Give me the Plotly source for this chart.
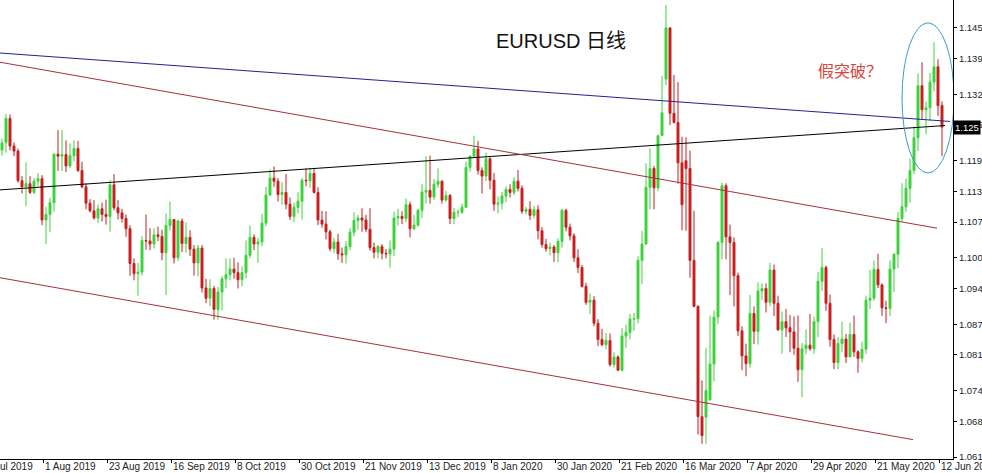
import plotly.graph_objects as go

# ---------------- data (EURUSD daily) ----------------
first_bar = 5  # bar index of the first candle (index 0 = 10 Jul 2019)

opens = [
    1.1211,1.1226,1.1273,1.1219,1.1209,1.1151,1.1139,1.1145,1.1128,1.1150,1.1155,
    1.1074,1.1085,1.1108,1.1203,1.1199,1.1202,1.1180,1.1200,1.1214,1.1171,1.1139,1.1107,1.1092,1.1078,1.1096,1.1085,1.1081,1.1143,1.1098,1.1088,1.1077,1.1057,
    1.0989,1.0969,1.0972,1.1034,1.1033,1.1027,1.1045,1.1042,1.1010,1.1063,1.1075,1.1000,1.1072,1.1028,1.1040,1.1017,1.0990,1.1019,1.0941,1.0921,1.0940,
    1.0899,1.0933,1.0959,1.0967,1.0978,1.0971,1.0957,1.0971,1.1005,1.1040,1.1027,1.1031,1.1068,1.1123,1.1156,1.1150,1.1124,1.1128,1.1105,1.1081,1.1099,1.1111,1.1152,
    1.1151,1.1165,1.1128,1.1074,1.1066,1.1051,1.1018,1.1031,1.1008,1.1006,1.1022,1.1050,1.1073,1.1078,1.1074,1.1056,1.1020,1.1011,1.1022,1.1009,1.1008,
    1.1017,1.1078,1.1081,1.1077,1.1104,1.1057,1.1064,1.1093,1.1129,1.1132,1.1119,1.1144,1.1150,1.1113,1.1122,1.1077,1.1089,1.1089,1.1099,1.1177,1.1199,
    1.1213,1.1171,1.1160,1.1194,1.1152,1.1105,1.1107,1.1121,1.1134,1.1128,1.1150,1.1136,1.1091,1.1095,1.1083,1.1094,1.1053,1.1026,1.1018,1.1021,1.1010,1.1032,
    1.1093,1.1060,1.1043,1.1000,1.0981,1.0944,1.0913,1.0917,1.0872,1.0840,1.0830,1.0838,1.0791,1.0806,1.0780,1.0847,1.0854,1.0880,1.0881,1.0995,
    1.1027,1.1138,1.1175,1.1137,1.1239,1.1350,1.1450,1.1283,1.1265,1.1186,1.1190,1.1175,1.0995,1.0905,1.0689,1.0688,1.0722,1.0792,1.0884,1.1030,1.1141,1.1041,
    1.1030,1.0965,1.0857,1.0808,1.0793,1.0891,1.0856,1.0935,1.0940,1.0913,1.0976,1.0911,1.0859,1.0875,1.0863,1.0855,1.0823,1.0781,1.0822,1.0829,1.0822,
    1.0875,1.0954,1.0981,1.0911,1.0840,1.0795,1.0832,1.0841,1.0806,1.0850,1.0816,1.0803,1.0821,1.0917,1.0921,1.0977,1.0947,1.0902,1.0901,1.0978,1.1007,1.1077,
    1.1100,1.1136,1.1171,1.1235,1.1337,1.1290,1.1294,1.1344,1.1374,1.1298,
]
highs = [
    1.1233,1.1282,1.1281,1.1226,1.1214,1.1160,1.1187,1.1160,1.1156,1.1166,1.1162,
    1.1100,1.1117,1.1204,1.1250,1.1250,1.1230,1.1224,1.1230,1.1229,1.1188,1.1146,1.1115,1.1113,1.1104,1.1108,1.1114,1.1152,1.1164,1.1113,1.1096,1.1085,1.1064,
    1.0999,1.0990,1.1043,1.1085,1.1058,1.1058,1.1061,1.1055,1.1087,1.1110,1.1076,1.1075,1.1077,1.1069,1.1054,1.1025,1.1025,1.1025,1.0959,1.0958,1.0945,
    1.0943,1.0964,1.0999,1.0999,1.1000,1.0991,1.0983,1.1034,1.1063,1.1046,1.1039,1.1086,1.1139,1.1173,1.1179,1.1156,1.1148,1.1164,1.1118,1.1108,1.1128,1.1156,1.1175,
    1.1176,1.1175,1.1138,1.1092,1.1091,1.1055,1.1039,1.1047,1.1020,1.1033,1.1058,1.1089,1.1084,1.1097,1.1084,1.1097,1.1030,1.1025,1.1027,1.1017,1.1034,
    1.1090,1.1096,1.1091,1.1116,1.1110,1.1084,1.1096,1.1145,1.1199,1.1200,1.1154,1.1175,1.1152,1.1131,1.1125,1.1098,1.1095,1.1106,1.1188,1.1200,1.1239,
    1.1229,1.1177,1.1206,1.1197,1.1166,1.1120,1.1129,1.1140,1.1144,1.1158,1.1172,1.1142,1.1100,1.1111,1.1102,1.1103,1.1060,1.1037,1.1030,1.1025,1.1038,1.1096,
    1.1096,1.1067,1.1048,1.1017,1.0986,1.0951,1.0930,1.0925,1.0880,1.0861,1.0853,1.0852,1.0815,1.0809,1.0863,1.0869,1.0890,1.0892,1.1003,1.1053,
    1.1185,1.1214,1.1180,1.1241,1.1356,1.1495,1.1452,1.1358,1.1344,1.1237,1.1236,1.1210,1.1092,1.0907,1.0760,1.0823,1.0887,1.0897,1.1033,1.1147,1.1146,1.1065,
    1.1040,1.0971,1.0866,1.0832,1.0927,1.0905,1.0952,1.0950,1.0950,1.0990,1.0987,1.0926,1.0895,1.0900,1.0888,1.0885,1.0887,1.0833,1.0860,1.0890,1.0885,
    1.0972,1.1019,1.0985,1.0928,1.0850,1.0845,1.0875,1.0851,1.0873,1.0887,1.0819,1.0836,1.0926,1.0976,1.0995,1.1008,1.0950,1.0916,1.0995,1.1009,1.1090,1.1146,
    1.1155,1.1194,1.1257,1.1361,1.1383,1.1306,1.1362,1.1422,1.1389,1.1306,
]
lows = [
    1.1200,1.1206,1.1210,1.1199,1.1147,1.1126,1.1101,1.1125,1.1125,1.1140,1.1064,
    1.1027,1.1050,1.1090,1.1170,1.1170,1.1168,1.1176,1.1189,1.1168,1.1136,1.1095,1.1089,1.1075,1.1068,1.1071,1.1065,1.1051,1.1093,1.1075,1.1069,1.1041,1.0965,
    1.0956,1.0926,1.0965,1.1016,1.1015,1.1018,1.1033,1.0995,1.0927,1.1053,1.0989,1.0994,1.1011,1.1010,1.1004,1.0965,1.0964,1.0932,1.0911,1.0905,1.0879,
    1.0879,1.0897,1.0940,1.0956,1.0959,1.0940,1.0944,1.0960,1.0999,1.1015,1.0990,1.1023,1.1062,1.1121,1.1139,1.1110,1.1104,1.1095,1.1074,1.1070,1.1087,1.1075,1.1140,
    1.1137,1.1126,1.1064,1.1059,1.1036,1.1013,1.1009,1.0996,1.0990,1.0989,1.1015,1.1042,1.1055,1.1051,1.1050,1.1014,1.0999,1.0999,1.0997,1.0999,1.0981,
    1.1003,1.1063,1.1066,1.1070,1.1040,1.1054,1.1061,1.1078,1.1106,1.1106,1.1113,1.1137,1.1106,1.1110,1.1066,1.1066,1.1080,1.1086,1.1098,1.1169,1.1196,
    1.1163,1.1126,1.1150,1.1134,1.1092,1.1087,1.1095,1.1109,1.1118,1.1123,1.1130,1.1086,1.1085,1.1074,1.1077,1.1036,1.1020,1.1012,1.1005,1.0992,1.0991,1.1020,
    1.1052,1.1034,1.0992,1.0970,1.0942,1.0908,1.0890,1.0866,1.0827,1.0827,1.0821,1.0787,1.0785,1.0778,1.0777,1.0824,1.0840,1.0857,1.0872,1.0949,
    1.1025,1.1095,1.1095,1.1130,1.1239,1.1338,1.1260,1.1263,1.1145,1.1054,1.1053,1.0961,1.0903,1.0654,1.0636,1.0636,1.0720,1.0758,1.0870,1.0997,1.0997,1.0927,
    1.0905,1.0847,1.0780,1.0768,1.0785,1.0831,1.0830,1.0917,1.0893,1.0905,1.0886,1.0857,1.0812,1.0845,1.0815,1.0810,1.0757,1.0727,1.0811,1.0818,1.0812,
    1.0845,1.0935,1.0896,1.0826,1.0782,1.0782,1.0815,1.0794,1.0805,1.0806,1.0775,1.0795,1.0812,1.0900,1.0916,1.0941,1.0886,1.0872,1.0886,1.0933,1.0980,1.1070,
    1.1090,1.1108,1.1164,1.1209,1.1272,1.1242,1.1269,1.1326,1.1278,1.1199,
]
closes = [
    1.1225,1.1273,1.1219,1.1209,1.1151,1.1139,1.1145,1.1128,1.1150,1.1155,1.1074,
    1.1085,1.1108,1.1203,1.1199,1.1202,1.1180,1.1200,1.1214,1.1171,1.1139,1.1107,1.1092,1.1078,1.1096,1.1085,1.1081,1.1143,1.1098,1.1088,1.1077,1.1057,1.0989,
    1.0969,1.0972,1.1034,1.1033,1.1027,1.1045,1.1042,1.1010,1.1063,1.1075,1.1000,1.1072,1.1028,1.1040,1.1017,1.0990,1.1019,1.0941,1.0921,1.0940,1.0899,
    1.0933,1.0959,1.0967,1.0978,1.0971,1.0957,1.0971,1.1005,1.1040,1.1027,1.1031,1.1068,1.1123,1.1156,1.1150,1.1124,1.1128,1.1105,1.1081,1.1099,1.1111,1.1152,1.1151,
    1.1165,1.1128,1.1074,1.1066,1.1051,1.1018,1.1031,1.1008,1.1006,1.1022,1.1050,1.1073,1.1078,1.1074,1.1056,1.1020,1.1011,1.1022,1.1009,1.1008,1.1017,
    1.1078,1.1081,1.1077,1.1104,1.1057,1.1064,1.1093,1.1129,1.1132,1.1119,1.1144,1.1150,1.1113,1.1122,1.1077,1.1089,1.1089,1.1099,1.1177,1.1199,1.1213,
    1.1171,1.1160,1.1194,1.1152,1.1105,1.1107,1.1121,1.1134,1.1128,1.1150,1.1136,1.1091,1.1095,1.1083,1.1094,1.1053,1.1026,1.1018,1.1021,1.1010,1.1032,1.1093,
    1.1060,1.1043,1.1000,1.0981,1.0944,1.0913,1.0917,1.0872,1.0840,1.0830,1.0838,1.0791,1.0806,1.0780,1.0847,1.0854,1.0880,1.0881,1.0995,1.1027,
    1.1138,1.1175,1.1137,1.1239,1.1284,1.1450,1.1283,1.1265,1.1186,1.1104,1.1175,1.0995,1.0905,1.0689,1.0652,1.0740,1.0792,1.0884,1.1030,1.1141,1.1041,1.1030,
    1.0965,1.0857,1.0808,1.0793,1.0891,1.0856,1.0935,1.0940,1.0913,1.0976,1.0911,1.0859,1.0875,1.0863,1.0855,1.0823,1.0781,1.0822,1.0829,1.0822,1.0875,
    1.0954,1.0981,1.0911,1.0840,1.0795,1.0832,1.0841,1.0806,1.0850,1.0816,1.0803,1.0821,1.0917,1.0921,1.0977,1.0947,1.0902,1.0901,1.0978,1.1007,1.1077,1.1100,
    1.1136,1.1171,1.1235,1.1337,1.1290,1.1294,1.1344,1.1374,1.1298,1.1256,
]

# date axis: a label every 16 bars (bar index from 10 Jul 2019)
date_tick_bars = [0, 16, 32, 48, 64, 80, 96, 112, 128, 144, 160, 176, 192, 208, 224, 240]
date_tick_labels = ["10 Jul 2019", "1 Aug 2019", "23 Aug 2019", "16 Sep 2019", "8 Oct 2019",
                    "30 Oct 2019", "21 Nov 2019", "13 Dec 2019", "8 Jan 2020", "30 Jan 2020",
                    "21 Feb 2020", "16 Mar 2020", "7 Apr 2020", "29 Apr 2020", "21 May 2020",
                    "12 Jun 2020"]

price_ticks = [1.061, 1.068, 1.074, 1.081, 1.087, 1.094, 1.100, 1.107, 1.113,
               1.119, 1.126, 1.132, 1.139, 1.145]
price_tick_labels = ["1.061", "1.068", "1.074", "1.081", "1.087", "1.094", "1.100", "1.107",
                     "1.113", "1.119", "1.126", "1.132", "1.139", "1.145"]

# trend lines: (bar start, price start, bar end, price end)
blue_line = (4.5, 1.1401, 242.0, 1.1267)
black_line = (4.5, 1.1133, 240.75, 1.1259)
channel_upper = (4.5, 1.1383, 238.75, 1.1058)
channel_lower = (4.5, 1.0961, 232.75, 1.0644)
ellipse_box = (230.0, 1.1166, 243.0, 1.1460)

X_RANGE = [4.5, 242.75]
Y_RANGE = [1.06061, 1.15048]

bars = list(range(first_bar, first_bar + len(closes)))
tick_pos = [b - 0.75 for b in date_tick_bars]

GREEN = "#3cd23c"
RED = "#c81e1e"

fig = go.Figure()
fig.add_trace(go.Candlestick(
    x=bars, open=opens, high=highs, low=lows, close=closes,
    increasing=dict(line=dict(color=GREEN, width=1), fillcolor=GREEN),
    decreasing=dict(line=dict(color=RED, width=1), fillcolor=RED),
    whiskerwidth=0, hoverinfo="skip", showlegend=False,
))

shapes = []
for (x0, y0, x1, y1), col in [(blue_line, "#23238c"), (black_line, "#000000"),
                              (channel_upper, "#a8303a"), (channel_lower, "#a8303a")]:
    shapes.append(dict(type="line", xref="x", yref="y", x0=x0, y0=y0, x1=x1, y1=y1,
                       line=dict(color=col, width=1), layer="above"))
shapes.append(dict(type="circle", xref="x", yref="y",
                   x0=ellipse_box[0], y0=ellipse_box[1], x1=ellipse_box[2], y1=ellipse_box[3],
                   line=dict(color="#3d9ccc", width=1), layer="above"))

annotations = [
    dict(text="EURUSD 日线", xref="paper", yref="paper", x=0.5887, y=0.9107,
         xanchor="center", yanchor="middle", showarrow=False,
         font=dict(family="Liberation Sans, Noto Sans CJK SC", size=20, color="#111111")),
    dict(text="假突破？", xref="paper", yref="paper", x=0.892, y=0.8475,
         xanchor="center", yanchor="middle", showarrow=False,
         font=dict(family="Noto Sans CJK SC", size=16, color="#d9443c")),
    dict(text=f"{closes[-1]:.4f}"[:5], xref="paper", yref="y", x=1.0, y=closes[-1],
         xanchor="left", yanchor="middle", showarrow=False, bgcolor="#000000",
         borderpad=1, font=dict(family="Liberation Sans", size=9.5, color="#ffffff")),
]
# date labels, left-aligned just right of their tick (MetaTrader style)
span = X_RANGE[1] - X_RANGE[0]
for pos, lab in zip(tick_pos, date_tick_labels):
    annotations.append(dict(
        text=lab, xref="paper", yref="paper", x=(pos - X_RANGE[0]) / span, y=0,
        xanchor="left", yanchor="top", xshift=1, yshift=-1, showarrow=False,
        borderpad=0, font=dict(family="Liberation Sans", size=10, color="#222222"),
    ))

fig.update_layout(
    template="none",
    width=982, height=473,
    margin=dict(l=0, r=29, t=0, b=14, pad=0),
    paper_bgcolor="#ffffff", plot_bgcolor="#ffffff",
    showlegend=False,
    shapes=shapes, annotations=annotations,
    xaxis=dict(
        range=X_RANGE, showgrid=False, zeroline=False,
        showline=True, linecolor="#000000", linewidth=1,
        ticks="outside", ticklen=3, tickcolor="#000000",
        tickvals=tick_pos, showticklabels=False,
        rangeslider=dict(visible=False), automargin=False, fixedrange=True,
    ),
    yaxis=dict(
        range=Y_RANGE, side="right", showgrid=False, zeroline=False,
        showline=True, linecolor="#000000", linewidth=1,
        ticks="outside", ticklen=3, tickcolor="#000000",
        tickvals=price_ticks, ticktext=price_tick_labels,
        tickfont=dict(family="Liberation Sans", size=9.5, color="#222222"),
        automargin=False, fixedrange=True,
    ),
)

fig.write_html(
    "out.html",
    config={"displayModeBar": False},
    post_script="document.body.style.margin='0';document.body.style.overflow='hidden';",
)
